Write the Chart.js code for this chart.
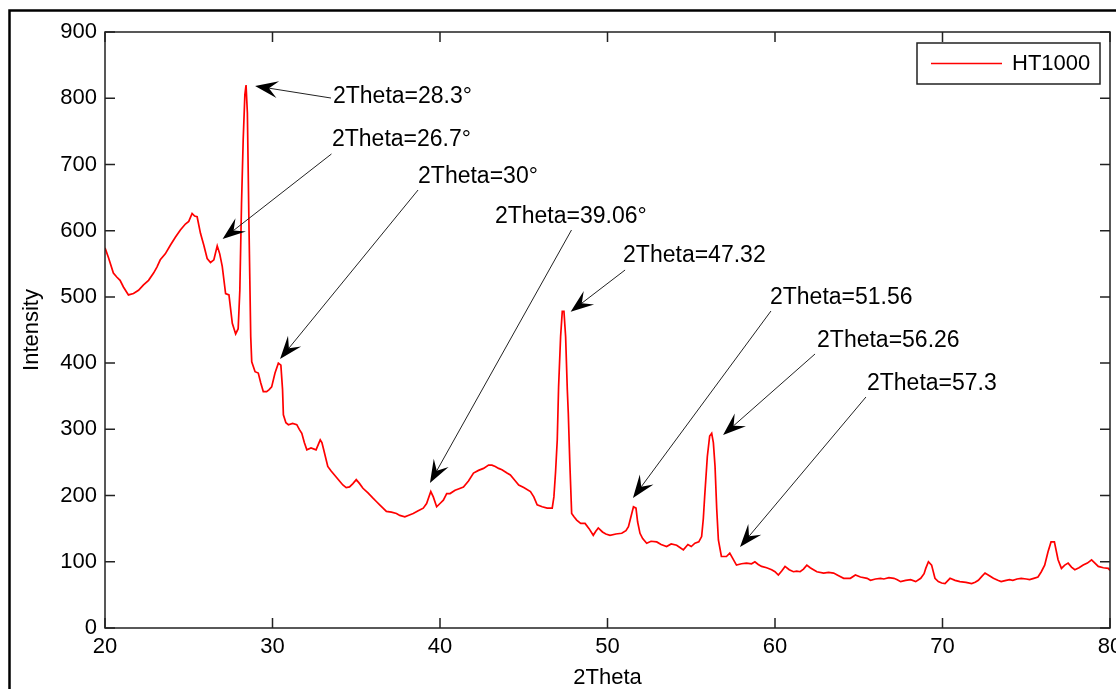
<!DOCTYPE html>
<html>
<head>
<meta charset="utf-8">
<title>HT1000</title>
<script src="https://cdn.jsdelivr.net/npm/chart.js@4.4.0/dist/chart.umd.min.js"></script>
<style>
  html, body { margin: 0; padding: 0; background: #fff; }
  canvas { display: block; }
</style>
</head>
<body>
<canvas id="xrd" width="1116" height="689"></canvas>
<script>
// XRD scan of the HT1000 sample
var twoTheta = [
  20.0, 20.2, 20.5, 20.7, 20.9, 21.1, 21.4, 21.7, 22.0, 22.3, 22.6, 22.9, 23.1, 23.3, 23.6, 23.9,
  24.2, 24.5, 24.8, 25.0, 25.2, 25.35, 25.5, 25.7, 25.9, 26.1, 26.3, 26.5, 26.7, 26.85, 27.0, 27.2,
  27.4, 27.6, 27.8, 27.95, 28.05, 28.15, 28.25, 28.35, 28.42, 28.5, 28.6, 28.7, 28.76, 28.96, 29.15, 29.3,
  29.45, 29.65, 29.8, 29.95, 30.15, 30.35, 30.5, 30.6, 30.65, 30.8, 30.95, 31.2, 31.45, 31.6, 31.75, 31.9,
  32.05, 32.3, 32.6, 32.85, 32.95, 33.05, 33.3, 33.5, 33.8, 34.0, 34.2, 34.4, 34.6, 34.8, 35.0, 35.2,
  35.4, 35.7, 36.0, 36.2, 36.4, 36.6, 36.8, 37.1, 37.4, 37.6, 37.9, 38.1, 38.4, 38.7, 39.0, 39.2,
  39.45, 39.6, 39.8, 40.0, 40.2, 40.4, 40.6, 40.9, 41.1, 41.4, 41.7, 42.0, 42.3, 42.6, 42.9, 43.1,
  43.3, 43.5, 43.7, 44.0, 44.2, 44.5, 44.7, 45.0, 45.4, 45.6, 45.8, 46.1, 46.4, 46.7, 46.8, 46.9,
  47.0, 47.08, 47.2, 47.3, 47.4, 47.5, 47.6, 47.66, 47.75, 47.86, 48.0, 48.16, 48.4, 48.66, 48.9, 49.15,
  49.3, 49.45, 49.7, 49.9, 50.15, 50.5, 50.85, 51.1, 51.25, 51.4, 51.55, 51.7, 51.8, 51.94, 52.1, 52.34,
  52.6, 52.94, 53.2, 53.53, 53.8, 54.13, 54.3, 54.53, 54.8, 55.0, 55.22, 55.45, 55.62, 55.72, 55.8, 55.96,
  56.1, 56.22, 56.32, 56.42, 56.52, 56.62, 56.8, 57.1, 57.3, 57.5, 57.7, 58.0, 58.3, 58.6, 58.8, 59.0,
  59.2, 59.5, 59.8, 60.0, 60.2, 60.4, 60.6, 60.85, 61.1, 61.3, 61.5, 61.7, 61.9, 62.1, 62.3, 62.5,
  62.9, 63.2, 63.5, 63.8, 64.1, 64.5, 64.8, 65.1, 65.5, 65.7, 66.0, 66.3, 66.5, 66.8, 67.1, 67.3,
  67.5, 67.8, 68.1, 68.4, 68.7, 68.9, 69.0, 69.16, 69.35, 69.55, 69.75, 69.95, 70.15, 70.45, 70.75, 71.04,
  71.4, 71.74, 71.95, 72.14, 72.35, 72.54, 72.8, 73.04, 73.3, 73.5, 73.8, 74.0, 74.2, 74.45, 74.7, 75.0,
  75.2, 75.45, 75.7, 75.9, 76.1, 76.3, 76.48, 76.68, 76.9, 77.1, 77.3, 77.5, 77.7, 77.9, 78.15, 78.4,
  78.65, 78.9, 79.1, 79.3, 79.6, 79.9, 80.0
];
var intensity = [
  574, 560, 536, 530, 525, 515, 503, 505, 510, 518, 525, 536, 545, 556, 565, 578,
  590, 601, 610, 614, 626, 622, 621, 596, 578, 558, 552, 556, 577, 565, 546, 505,
  503, 460, 444, 452, 510, 640, 737, 805, 820, 778, 600, 440, 402, 387, 385, 370,
  357, 357, 360, 364, 385, 400, 397, 360, 322, 310, 307, 309, 307, 300, 294, 280,
  269, 272, 269, 284, 280, 270, 244, 237, 228, 222, 216, 212, 213, 218, 224, 218,
  211, 204, 196, 191, 186, 181, 176, 175, 173, 170, 168, 170, 173, 177, 181, 188,
  206, 198, 183, 188, 193, 203, 203, 208, 210, 213, 222, 234, 238, 241, 246, 246,
  244, 241, 239, 234, 231, 222, 216, 212, 206, 198, 186, 183, 181, 181, 198, 236,
  284, 364, 440, 478, 478, 440, 360, 324, 250, 173, 168, 163, 158, 158, 150, 140,
  146, 151, 145, 142, 140, 142, 143, 147, 153, 168, 183, 181, 160, 143, 135, 128,
  131, 130, 126, 123, 127, 125, 122, 118, 126, 123, 128, 130, 138, 165, 198, 259,
  290, 294, 280, 244, 180, 133, 108, 108, 113, 104, 95, 97, 98, 97, 100, 96,
  93, 91, 88, 85, 80, 86, 93, 88, 85, 86, 85, 89, 95, 91, 88, 85,
  83, 84, 83, 79, 75, 75, 80, 77, 75, 72, 74, 75, 74, 76, 75, 73,
  70, 72, 73, 70, 75, 82, 90, 100, 95, 75, 70, 68, 67, 75, 72, 70,
  69, 67, 69, 72, 78, 83, 79, 75, 72, 70, 72, 73, 72, 74, 75, 74,
  73, 75, 77, 85, 95, 115, 130, 130, 103, 90, 95, 98, 92, 88, 91, 95,
  98, 103, 98, 93, 91, 90, 87
];
var seriesName = 'HT1000';
var xTickStep = 10;
var yTickStep = 100;

// peak callouts: text, arrow tip, tail of the leader, text anchor (data units)
var peakLabels = ['2Theta=28.3°', '2Theta=26.7°', '2Theta=30°', '2Theta=39.06°',
                  '2Theta=47.32', '2Theta=51.56', '2Theta=56.26', '2Theta=57.3'];
var callouts = [
  { tip: [28.96, 818.5], tail: [33.49, 800.3], text: [33.61, 801.8] },
  { tip: [27.02, 587.4], tail: [33.52, 715.8], text: [33.55, 736.9] },
  { tip: [30.45, 406.2], tail: [38.69, 661.4], text: [38.69, 681.0] },
  { tip: [39.40, 219.0], tail: [47.85, 601.0], text: [43.28, 620.6] },
  { tip: [47.80, 477.6], tail: [51.05, 540.6], text: [50.93, 561.7] },
  { tip: [51.52, 196.3], tail: [59.76, 478.7], text: [59.70, 498.3] },
  { tip: [56.90, 291.4], tail: [62.39, 413.8], text: [62.51, 433.4] },
  { tip: [57.91, 122.3], tail: [65.43, 348.8], text: [65.49, 368.5] }
];

var points = twoTheta.map(function (t, i) { return { x: t, y: intensity[i] } });

var FONT = 'Arial, "Liberation Sans", sans-serif';
Chart.defaults.font.family = FONT;
Chart.defaults.font.size = 22;
Chart.defaults.color = '#000';

function arrowHead(ctx, tx, ty, fx, fy) {
  var a = Math.atan2(ty - fy, tx - fx);
  ctx.save();
  ctx.translate(tx, ty);
  ctx.rotate(a);
  ctx.beginPath();
  ctx.moveTo(0, 0);
  ctx.lineTo(-23, -8.5);
  ctx.lineTo(-14, 0);
  ctx.lineTo(-23, 8.5);
  ctx.closePath();
  ctx.fill();
  ctx.restore();
}

var matlabAxes = {
  id: 'matlabAxes',
  beforeDraw: function (chart) {
    var ctx = chart.ctx;
    ctx.save();
    ctx.strokeStyle = '#000';
    ctx.lineWidth = 2.5;
    ctx.strokeRect(9.5, 10.5, chart.width + 20, chart.height + 20);
    ctx.restore();
  },
  afterDraw: function (chart) {
    var ctx = chart.ctx;
    var a = chart.chartArea;
    var xs = chart.scales.x, ys = chart.scales.y;
    ctx.save();

    // axes box with inward ticks on all four sides
    ctx.strokeStyle = '#222';
    ctx.lineWidth = 1.5;
    ctx.strokeRect(a.left, a.top, a.right - a.left, a.bottom - a.top);
    ctx.beginPath();
    xs.ticks.forEach(function (t) {
      var px = xs.getPixelForValue(t.value);
      ctx.moveTo(px, a.bottom); ctx.lineTo(px, a.bottom - 10);
      ctx.moveTo(px, a.top); ctx.lineTo(px, a.top + 10);
    });
    ys.ticks.forEach(function (t) {
      var py = ys.getPixelForValue(t.value);
      ctx.moveTo(a.left, py); ctx.lineTo(a.left + 10, py);
      ctx.moveTo(a.right, py); ctx.lineTo(a.right - 10, py);
    });
    ctx.stroke();

    // callout arrows
    ctx.font = '23px ' + FONT;
    ctx.textAlign = 'left';
    ctx.textBaseline = 'middle';
    callouts.forEach(function (c, i) {
      var tx = xs.getPixelForValue(c.tip[0]), ty = ys.getPixelForValue(c.tip[1]);
      var fx = xs.getPixelForValue(c.tail[0]), fy = ys.getPixelForValue(c.tail[1]);
      var len = Math.hypot(tx - fx, ty - fy);
      var ex = tx - (tx - fx) / len * 14, ey = ty - (ty - fy) / len * 14;
      ctx.strokeStyle = '#222';
      ctx.lineWidth = 1;
      ctx.beginPath();
      ctx.moveTo(fx, fy);
      ctx.lineTo(ex, ey);
      ctx.stroke();
      ctx.fillStyle = '#000';
      arrowHead(ctx, tx, ty, fx, fy);
      ctx.fillText(peakLabels[i], xs.getPixelForValue(c.text[0]), ys.getPixelForValue(c.text[1]));
    });

    // legend box in the upper right corner
    var ds = chart.data.datasets[0];
    var bx = a.right - 193, by = a.top + 11, bw = 183, bh = 41;
    ctx.fillStyle = '#fff';
    ctx.fillRect(bx, by, bw, bh);
    ctx.strokeStyle = '#222';
    ctx.lineWidth = 1.5;
    ctx.strokeRect(bx, by, bw, bh);
    ctx.strokeStyle = ds.borderColor;
    ctx.beginPath();
    ctx.moveTo(bx + 14, by + 20.5);
    ctx.lineTo(bx + 85, by + 20.5);
    ctx.stroke();
    ctx.fillStyle = '#000';
    ctx.font = '22px ' + FONT;
    ctx.fillText(ds.label, bx + 95, by + 21);
    ctx.restore();
  }
};

new Chart(document.getElementById('xrd'), {
  type: 'line',
  data: {
    datasets: [{
      label: seriesName,
      data: points,
      borderColor: '#ff0000',
      borderWidth: 1.7,
      pointRadius: 0,
      tension: 0,
      fill: false
    }]
  },
  options: {
    responsive: false,
    animation: false,
    layout: { padding: { top: 32, right: 6, left: 0, bottom: 0 } },
    plugins: {
      legend: { display: false },
      tooltip: { enabled: false }
    },
    scales: {
      x: {
        type: 'linear',
        min: 20,
        max: 80,
        ticks: { stepSize: xTickStep, padding: 6, maxRotation: 0 },
        grid: { display: false, drawTicks: false },
        border: { display: false },
        title: { display: true, text: '2Theta', font: { size: 22, lineHeight: 1 }, padding: { top: 0, bottom: 0 } },
        afterFit: function (s) {
          s.height = 61;
          s.paddingLeft = 0;
          s.paddingRight = 0;
        }
      },
      y: {
        min: 0,
        max: 900,
        ticks: { stepSize: yTickStep, padding: 8 },
        grid: { display: false, drawTicks: false },
        border: { display: false },
        title: { display: true, text: 'Intensity', font: { size: 22, lineHeight: 1 }, padding: { top: 21, bottom: 0 } },
        afterFit: function (s) {
          s.width = 105;
          s.paddingTop = 0;
          s.paddingBottom = 0;
        }
      }
    }
  },
  plugins: [matlabAxes]
});
</script>
</body>
</html>
